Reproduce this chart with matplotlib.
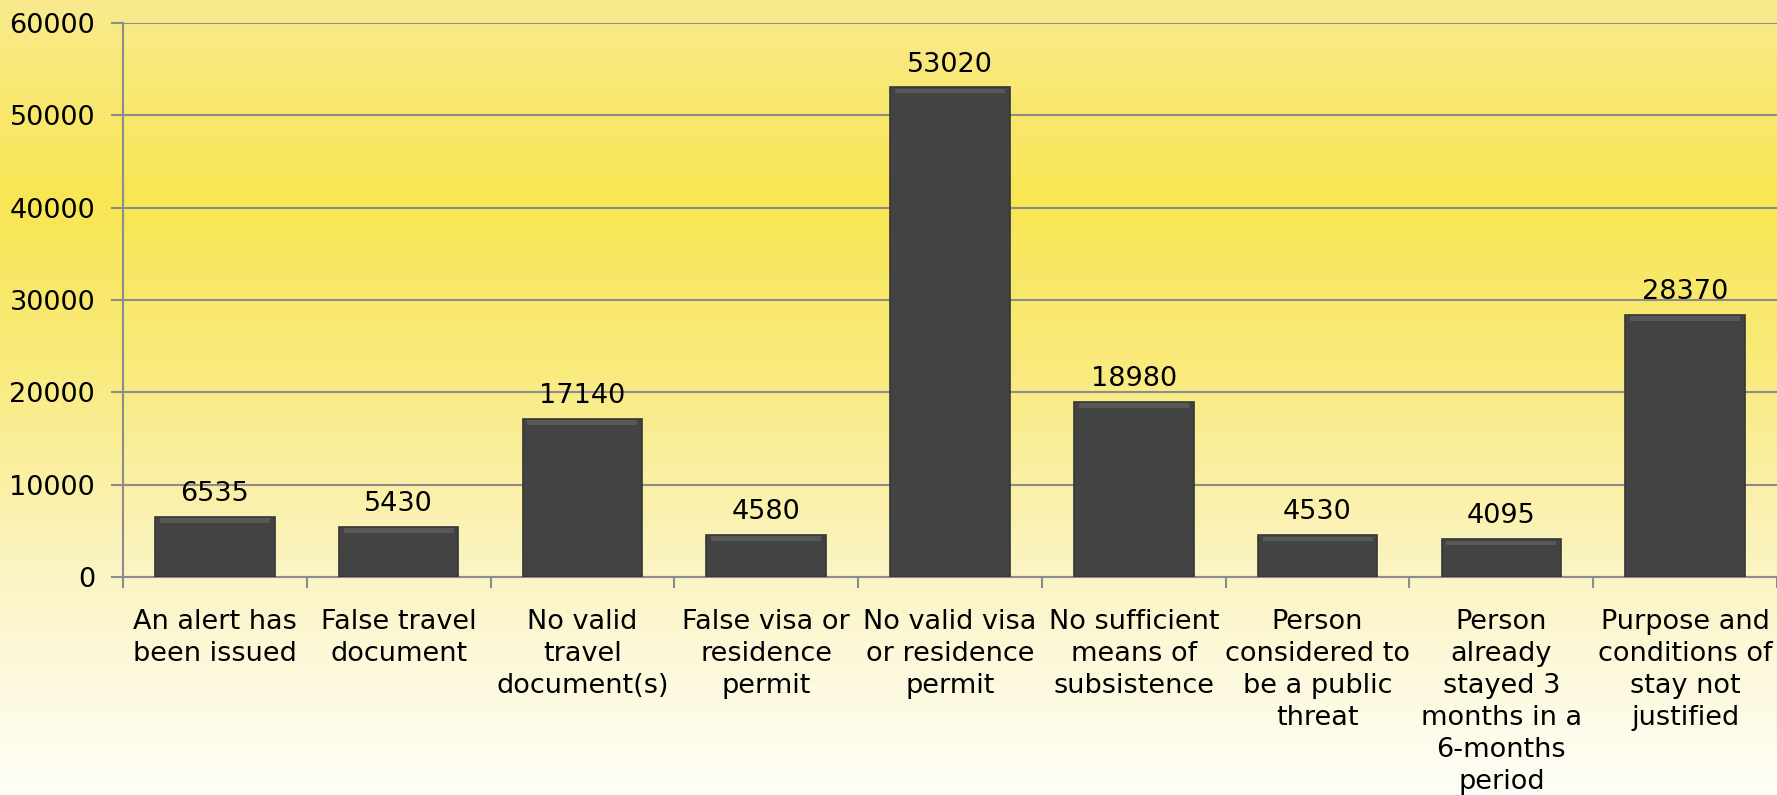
import numpy as np
import matplotlib
matplotlib.use("Agg")
import matplotlib.pyplot as plt
from matplotlib.colors import LinearSegmentedColormap

categories = [
    "An alert has\nbeen issued",
    "False travel\ndocument",
    "No valid\ntravel\ndocument(s)",
    "False visa or\nresidence\npermit",
    "No valid visa\nor residence\npermit",
    "No sufficient\nmeans of\nsubsistence",
    "Person\nconsidered to\nbe a public\nthreat",
    "Person\nalready\nstayed 3\nmonths in a\n6-months\nperiod",
    "Purpose and\nconditions of\nstay not\njustified",
]
values = [6535, 5430, 17140, 4580, 53020, 18980, 4530, 4095, 28370]
yticks = [0, 10000, 20000, 30000, 40000, 50000, 60000]

plt.rcParams['font.family'] = ['DejaVu Sans']
FS = 19.5

fig = plt.figure(figsize=(17.77, 7.95), dpi=100)

# background gradient (pale top, bright yellow band, near white bottom)
bg = fig.add_axes([0, 0, 1, 1], zorder=-10)
cmap = LinearSegmentedColormap.from_list(
    "bg", [(0.0, "#f9ea8e"), (0.25, "#f8e653"), (0.45, "#f9ea7a"),
           (0.72, "#fbf4c4"), (1.0, "#fffef8")])
grad = np.linspace(0, 1, 256).reshape(-1, 1)
bg.imshow(grad, aspect="auto", cmap=cmap, extent=[0, 1, 0, 1], origin="upper")
bg.axis("off")

ax = fig.add_axes([123 / 1777, 1 - 577 / 795, 1 - 123 / 1777, (577 - 23) / 795])
ax.patch.set_alpha(0)

x = np.arange(len(values))
bars = ax.bar(x, values, width=0.65, color="#434343", edgecolor="#363636",
              linewidth=1.2, zorder=3)
# soft bevel highlight on the top of each bar
for b, v in zip(bars, values):
    ax.bar(b.get_x() + b.get_width() / 2, 500, bottom=v - 650, width=b.get_width() * 0.92,
           color="#585858", linewidth=0, zorder=4)

for xi, v in zip(x, values):
    ax.annotate(str(v), (xi, v), xytext=(0, 7), textcoords="offset points",
                ha="center", va="bottom", fontsize=FS, color="black")

ax.set_xlim(-0.5, len(values) - 0.5)
ax.set_ylim(0, 60000)
ax.set_yticks(yticks)
ax.set_yticklabels([str(t) for t in yticks], fontsize=FS)
ax.set_xticks(x)
ax.set_xticklabels(categories, fontsize=FS, linespacing=1.3)
ax.set_xticks(np.arange(len(values) + 1) - 0.5, minor=True)

ax.tick_params(axis="x", which="major", length=0, pad=23)
ax.tick_params(axis="x", which="minor", length=8, width=1.5, color="#8c8c8c")
ax.tick_params(axis="y", length=9, width=1.5, color="#8c8c8c", pad=11)

ax.yaxis.grid(True, color="#8c8c8c", linewidth=1.5, zorder=0)
ax.set_axisbelow(True)
for s in ["top", "right"]:
    ax.spines[s].set_visible(False)
for s in ["left", "bottom"]:
    ax.spines[s].set_color("#8c8c8c")
    ax.spines[s].set_linewidth(1.5)

fig.savefig("out.png", dpi=100)
